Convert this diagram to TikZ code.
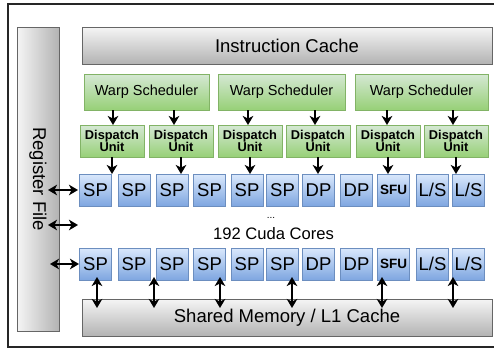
\documentclass[tikz,border=0pt]{standalone}
\usepackage{fontspec}
\setmainfont{Liberation Sans}
\usetikzlibrary{arrows.meta,calc}

\definecolor{grayline}{HTML}{666666}
\definecolor{graytop}{HTML}{F5F5F5}
\definecolor{graybot}{HTML}{B3B3B3}
\definecolor{greenline}{HTML}{82B366}
\definecolor{greentop}{HTML}{D5E8D4}
\definecolor{greenbot}{HTML}{97D077}
\definecolor{blueline}{HTML}{6C8EBF}
\definecolor{bluetop}{HTML}{DAE8FC}
\definecolor{bluebot}{HTML}{7EA6E0}

\newcommand\sfulabel[1]{{\fontsize{13.5}{14}\selectfont\bfseries #1}}

\tikzset{
  box/.style={inner sep=0pt, outer sep=0pt, line width=0.9pt, align=center},
  graybox/.style={box, draw=grayline, top color=graytop, bottom color=graybot,
    font=\fontsize{18.5}{20}\selectfont},
  warpbox/.style={box, draw=greenline, top color=greentop, bottom color=greenbot,
    minimum height=36pt, font=\fontsize{14.5}{16}\selectfont},
  dispbox/.style={box, draw=greenline, top color=greentop, bottom color=greenbot,
    minimum width=64pt, minimum height=32pt,
    font=\fontsize{12.8}{13.5}\selectfont\bfseries},
  corebox/.style={box, draw=blueline, top color=bluetop, bottom color=bluebot,
    minimum width=32pt, minimum height=32pt, font=\fontsize{18.5}{18.5}\selectfont},
  tip/.style={Stealth[length=9pt,width=10.5pt,inset=2.5pt]},
  arr/.style={line width=1.9pt, -{Stealth[length=9pt,width=10.5pt,inset=2.5pt]}},
  dbl/.style={line width=1.9pt, {Stealth[length=9pt,width=10.5pt,inset=2.5pt]}-{Stealth[length=9pt,width=10.5pt,inset=2.5pt]}}
}

\begin{document}
\begin{tikzpicture}[x=1pt,y=-1pt]
  \useasboundingbox (0,0) rectangle (494,349);
  \begin{scope}
    \clip (0,0) rectangle (494,349);
    % outer frame, running past the right edge
    \draw[line width=1.3pt, black!85] (500,4) -- (8,4) -- (8,347) -- (500,347);
  \end{scope}

  % register file and caches
  \node[box, draw=grayline, left color=graytop, right color=graybot,
        minimum width=42pt, minimum height=304pt] (rf) at (38,179) {};
  \node[rotate=-90, font=\fontsize{18.5}{20}\selectfont] (rft) at (rf.center) {Register File};
  \node[graybox, minimum width=410pt, minimum height=37pt] (ic) at (287,45.5) {Instruction Cache};
  \node[graybox, minimum width=410pt, minimum height=37pt] (sm) at (287,317.5) {Shared Memory / L1 Cache};

  % warp schedulers
  \node[warpbox, minimum width=125pt] (w1) at (146.5,92) {Warp Scheduler};
  \node[warpbox, minimum width=127pt] (w2) at (281.5,92) {Warp Scheduler};
  \node[warpbox, minimum width=133pt] (w3) at (421.5,92) {Warp Scheduler};

  % dispatch units
  \foreach \n/\x in {1/112, 2/181, 3/250, 4/318, 5/388, 6/456}
    \node[dispbox] (d\n) at (\x,141) {Dispatch\\[-1pt]Unit};

  % two rows of cores
  \foreach \n/\x/\t in {1/95.5/SP, 2/134/SP, 3/172/SP, 4/209.5/SP, 5/247/SP, 6/282.5/SP,
                        7/318.5/DP, 8/356.5/DP, 9/393.5/{\sfulabel{SFU}},
                        10/432.5/{L/S}, 11/468.5/{L/S}} {
    \node[corebox] (a\n) at (\x,190) {\t};
    \node[corebox] (b\n) at (\x,264) {\t};
  }
  \node[font=\fontsize{10}{10}\selectfont] (dots) at (271,217.5) {...};
  \node[font=\fontsize{16.6}{18}\selectfont] (cc) at (273.5,234) {192 Cuda Cores};

  % scheduler -> dispatch
  \foreach \x/\w/\d in {113/w1/d1, 174/w1/d2, 248/w2/d3, 315/w2/d4, 387/w3/d5, 453/w3/d6}
    \draw[arr] (\x,0 |- \w.south) -- (\x,0 |- \d.north);

  % dispatch -> cores
  \foreach \n in {1,...,6}
    \draw[arr] (d\n.south) -- (d\n.south |- a1.north);

  % register file <-> cores
  \coordinate (rmid) at (78,225);
  \draw[dbl] ([xshift=-11pt]rf.east |- a1.west) -- ([xshift=-1.5pt]a1.west);
  \draw[dbl] ([xshift=-11pt]rf.east |- rmid) -- (rmid);
  \draw[dbl] ([xshift=-9pt]rf.east |- b1.west) -- ([xshift=-0.5pt]b1.west);

  % cores <-> shared memory
  \foreach \x/\b in {97/b1, 154/b3, 220/b4, 292/b6, 382/b9, 453/b11}
    \draw[dbl, shorten <=-3pt, shorten >=-9pt] (\x,0 |- \b.south) -- (\x,0 |- sm.north);
\end{tikzpicture}
\end{document}
